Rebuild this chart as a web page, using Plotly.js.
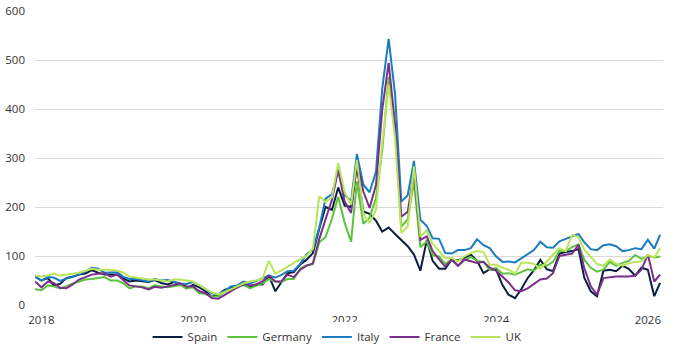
<!DOCTYPE html>
<html>
<head>
<meta charset="utf-8">
<script src="https://cdn.plot.ly/plotly-3.0.1.min.js"></script>
<style>
html,body{margin:0;padding:0;background:#fff;}
#chart{width:689px;height:360px;}
</style>
</head>
<body>
<div id="chart"></div>
<script>
// Monthly values, Dec 2017 – Mar 2026
const startYear = 2017, startMonth = 12, nMonths = 100;
const months = [];
for (let i = 0; i < nMonths; i++) {
  const mm = (startMonth - 1 + i) % 12 + 1;
  const yy = startYear + Math.floor((startMonth - 1 + i) / 12);
  months.push(yy + '-' + String(mm).padStart(2, '0') + '-01');
}

const spain = [58,
50,55,40,43,55,58,62,64,71,66,62,62,
62,54,48,50,48,47,51,45,42,47,42,34,
41,36,28,17,21,31,34,36,41,36,42,42,
60,28,46,65,67,83,92,106,156,200,194,240,
203,200,283,191,186,172,150,158,145,132,120,103,
70,133,90,74,74,93,91,96,103,90,65,73,
72,40,21,14,32,55,71,92,73,69,105,108,
110,114,55,28,18,70,72,69,80,74,60,76,
72,18,45];

const germany = [32,
30,40,38,34,38,44,48,52,53,55,57,50,
50,44,34,38,38,34,40,38,36,38,41,34,
36,24,23,17,18,26,30,35,43,34,39,44,
53,48,47,53,53,74,81,83,128,139,176,221,
168,129,252,166,178,218,315,465,356,160,175,252,
118,130,102,99,84,93,80,91,98,90,88,72,
76,64,65,62,67,73,70,82,80,88,111,110,
118,124,92,76,68,72,88,80,86,90,102,94,
100,97,99];

const italy = [58,
50,57,56,49,54,57,62,68,76,74,66,66,
67,57,53,53,50,48,53,50,51,48,44,43,
47,40,32,24,22,28,38,40,48,44,49,55,
60,56,61,69,70,84,103,113,158,217,226,275,
224,212,308,246,230,272,441,543,430,211,224,294,
174,161,136,135,106,105,112,112,116,134,122,116,
99,88,89,87,95,103,112,129,118,117,130,135,
140,145,128,114,112,122,124,120,110,112,116,114,
133,115,143];

const france = [48,
36,48,45,35,34,42,52,57,62,64,65,58,
62,50,40,38,36,32,37,35,38,40,44,38,
38,28,24,14,13,20,28,36,44,40,42,48,
60,48,48,62,57,72,80,85,135,175,215,276,
211,188,294,232,198,245,398,494,368,180,190,272,
133,140,110,93,78,93,80,93,89,86,88,76,
70,57,46,30,28,34,42,52,54,65,100,103,
105,123,75,38,21,55,57,58,58,58,60,72,
103,48,62];

const uk = [60,
58,60,64,60,62,64,66,70,74,72,72,72,
70,66,58,56,54,52,52,50,48,52,52,50,
48,40,34,26,22,26,32,38,44,48,50,54,
90,64,70,78,86,94,100,115,222,210,220,290,
230,205,296,187,167,194,330,450,340,147,160,283,
140,152,125,110,96,96,89,99,106,110,108,82,
82,76,72,64,86,86,84,74,89,103,116,110,
143,138,113,99,84,80,93,84,80,85,88,89,
102,97,116];

const seriesNames = ['Spain', 'Germany', 'Italy', 'France', 'UK'];
const seriesData = [spain, germany, italy, france, uk];
const seriesColors = ['#0c1e40', '#5cc43c', '#1c7cc0', '#7a2f8c', '#b9e55a'];

const yTicks = [0, 100, 200, 300, 400, 500, 600];

const traces = seriesNames.map((name, i) => ({
  type: 'scatter',
  mode: 'lines',
  name: name,
  x: months,
  y: seriesData[i],
  line: {color: seriesColors[i], width: 2},
  hoverinfo: 'x+y+name'
}));

const layout = {
  width: 689,
  height: 360,
  margin: {l: 35, r: 26, t: 11, b: 55},
  paper_bgcolor: '#ffffff',
  plot_bgcolor: '#ffffff',
  font: {family: '"Open Sans", "DejaVu Sans", sans-serif', size: 11.5, color: '#333333'},
  showlegend: true,
  legend: {
    orientation: 'h',
    xref: 'container',
    yref: 'container',
    x: 0.49,
    xanchor: 'center',
    y: 0.064,
    yanchor: 'middle',
    font: {size: 11.5, color: '#333333'},
    itemwidth: 30,
    tracegroupgap: 0
  },
  xaxis: {
    type: 'date',
    range: ['2017-12-01', '2026-03-15'],
    tick0: '2018-01-01',
    dtick: 'M24',
    tickformat: '%Y',
    showgrid: false,
    zeroline: false,
    showline: false,
    ticks: '',
    automargin: false,
    ticklabelstandoff: 6,
    tickfont: {size: 11.5, color: '#333333'}
  },
  yaxis: {
    range: [0, 600],
    tickvals: yTicks,
    ticktext: yTicks.map(String),
    showgrid: true,
    gridcolor: '#d9d9d9',
    gridwidth: 1,
    zeroline: false,
    showline: false,
    ticks: '',
    automargin: false,
    ticklabelstandoff: 9,
    tickfont: {size: 11.5, color: '#333333'}
  }
};

Plotly.newPlot('chart', traces, layout, {displayModeBar: false, staticPlot: true});
</script>
</body>
</html>
